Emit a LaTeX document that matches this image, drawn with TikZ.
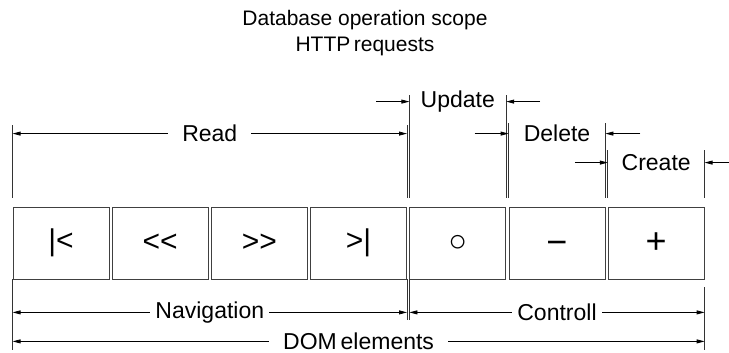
\documentclass[tikz,border=0pt]{standalone}
\usepackage{fontspec}
\setmainfont{Liberation Sans}
\usetikzlibrary{arrows.meta, positioning, calc}

\begin{document}
\begin{tikzpicture}[
    x=1pt, y=1pt,
    cell/.style={rectangle, draw=black!75, line width=0.8pt, minimum width=96pt, minimum height=72pt, inner sep=0pt, font=\fontsize{30}{34}\selectfont},
    dimarr/.style={{Triangle[length=8pt,width=4pt]}-{Triangle[length=8pt,width=4pt]}, line width=0.8pt},
    ptr/.style={-{Triangle[length=8pt,width=4pt]}, line width=0.8pt},
    extline/.style={line width=0.8pt, black!80},
    lbl/.style={fill=white, inner xsep=5pt, inner ysep=0pt, font=\fontsize{23}{27}\selectfont},
    wide/.style={lbl, inner xsep=14pt},
    node distance=2.4pt
]
\useasboundingbox (0,0) rectangle (729,353);

\node[align=center, font=\fontsize{21}{26}\selectfont] (title) at (365,320) {Database operation scope\\HTTP\,requests};

% the row of controls
\node[cell] (first) at (61,110) {|<};
\node[cell, right=of first] (back) {<\kern0pt<};
\node[cell, right=of back] (fwd) {>\kern0pt>};
\node[cell, right=of fwd] (last) {>|};
\node[cell, right=of last, font=\fontsize{31}{34}\selectfont] (reset) {○};
\node[cell, right=of reset, font=\fontsize{36}{40}\selectfont] (del) {\raisebox{-11.5pt}[0pt][0pt]{−}};
\node[cell, right=of del, font=\fontsize{36}{40}\selectfont] (add) {+};

% extension lines
\foreach \n/\a/\h in {first/north west/82, last/north east/82, reset/north west/112, reset/north east/112,
                      del/north west/84, del/north east/84, add/north west/57, add/north east/57}
  \draw[extline] ($(\n.\a)+(0,9)$) -- ($(\n.\a)+(0,\h)$);
\foreach \n/\a/\t/\h in {first/south west/0/71, last/south east/0/41, reset/south west/0/41, add/south east/8/71}
  \draw[extline] ($(\n.\a)+(0,-\t)$) -- ($(\n.\a)+(0,-\h)$);

% operations
\draw[dimarr] ($(first.north west)+(0,73)$) -- node[wide] (read) {Read} ($(last.north east)+(0,73)$);

\coordinate (upL) at ($(reset.north west)+(0,105)$);
\coordinate (upR) at ($(reset.north east)+(0,105)$);
\draw[ptr] ($(upL)+(-33,0)$) -- (upL);
\draw[ptr] ($(upR)+(34,0)$) -- (upR);
\node[lbl] (update) at ($(upL)!0.5!(upR)$) {Update};

\coordinate (dlL) at ($(del.north west)+(0,73)$);
\coordinate (dlR) at ($(del.north east)+(0,73)$);
\draw[ptr] ($(dlL)+(-34,0)$) -- (dlL);
\draw[ptr] ($(dlR)+(35,0)$) -- (dlR);
\node[lbl] (delete) at ($(dlL)!0.5!(dlR)$) {Delete};

\coordinate (crL) at ($(add.north west)+(0,44)$);
\coordinate (crR) at ($(add.north east)+(0,44)$);
\draw[ptr] ($(crL)+(-33,0)$) -- (crL);
\draw[ptr] ($(crR)+(26,0)$) -- (crR);
\node[lbl] (create) at ($(crL)!0.5!(crR)$) {Create};

% groups below
\draw[dimarr] ($(first.south west)+(0,-33)$) -- node[lbl] (nav) {Navigation} ($(last.south east)+(0,-33)$);
\draw[dimarr] ($(reset.south west)+(0,-33)$) -- node[lbl] (ctrl) {Controll} ($(add.south east)+(0,-33)$);
\draw[dimarr] ($(first.south west)+(0,-62)$) -- node[wide] (dom) {DOM\,elements} ($(add.south east)+(0,-62)$);
\end{tikzpicture}
\end{document}
